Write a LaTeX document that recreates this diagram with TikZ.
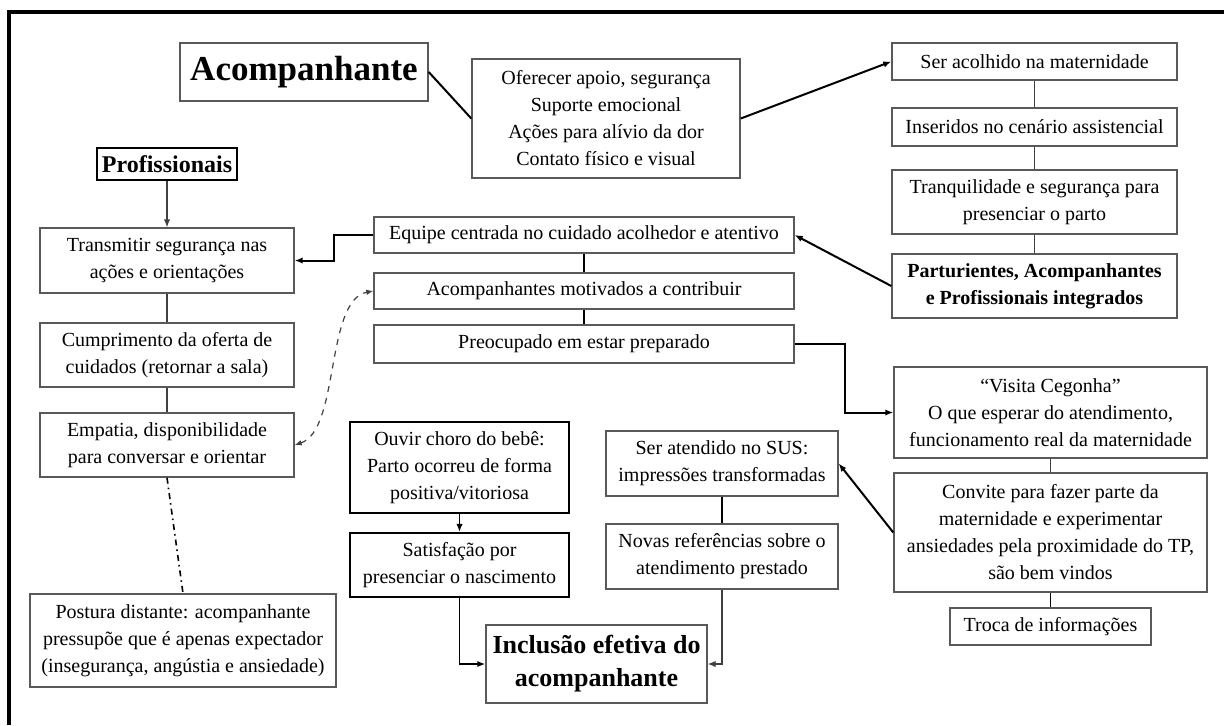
\documentclass[tikz,border=0pt]{standalone}
\usepackage{fontspec}
\setmainfont{Liberation Serif}
\usetikzlibrary{arrows.meta}

\begin{document}
\begin{tikzpicture}[x=0.5pt,y=-0.5pt,
	cbox/.style={draw=black!65,line width=0.7pt,align=center,inner sep=0pt,font=\fontsize{10}{13.5}\selectfont},
	hbox/.style={cbox,draw=black,line width=1.1pt},
	tie/.style={draw=black!75,line width=0.6pt},
	ar/.style={-{Latex[length=4pt,width=3.2pt]}},
	bigar/.style={ar,line width=1pt}]
	\useasboundingbox (0,0) rectangle (1224,725);
	\draw[line width=2.4pt] (9,725) -- (9,12) -- (1224,12);

	\node[cbox,minimum width=124pt,minimum height=29pt,font=\bfseries\fontsize{17.5}{20}\selectfont] (acomp) at (304,72) {Acompanhante};
	\node[cbox,minimum width=134pt,minimum height=59.5pt] (apoio) at (606,118.5) {Oferecer apoio, segurança\\Suporte emocional\\Ações para alívio da dor\\Contato físico e visual};
	\node[cbox,minimum width=142.5pt,minimum height=18.5pt] (acolhido) at (1034.5,61.5) {Ser acolhido na maternidade};
	\node[cbox,minimum width=142.5pt,minimum height=19pt] (inseridos) at (1034.5,127) {Inseridos no cenário assistencial};
	\node[cbox,minimum width=142.5pt,minimum height=32pt] (tranq) at (1034.5,202) {Tranquilidade e segurança para\\presenciar o parto};
	\node[cbox,minimum width=142.5pt,minimum height=32pt,font=\bfseries\fontsize{10}{13.5}\selectfont] (integr) at (1034.5,286) {Parturientes, Acompanhantes\\e Profissionais integrados};

	\node[hbox,minimum width=70pt,minimum height=16pt,font=\bfseries\fontsize{12}{14}\selectfont] (profiss) at (167,164) {Profissionais};
	\node[cbox,minimum width=127pt,minimum height=32.5pt] (transm) at (167,260.5) {Transmitir segurança nas\\ações e orientações};
	\node[cbox,minimum width=127pt,minimum height=32pt] (cumpr) at (167,355) {Cumprimento da oferta de\\cuidados (retornar a sala)};
	\node[cbox,minimum width=127pt,minimum height=32pt] (empat) at (167,445) {Empatia, disponibilidade\\para conversar e orientar};
	\node[cbox,minimum width=153pt,minimum height=46.5pt] (postura) at (183,640.5) {Postura distante: acompanhante\\pressupõe que é apenas expectador\\(insegurança, angústia e ansiedade)};

	\node[cbox,minimum width=210pt,minimum height=18pt] (equipe) at (584,235) {Equipe centrada no cuidado acolhedor e atentivo};
	\node[cbox,minimum width=210pt,minimum height=18pt] (motiv) at (584,291) {Acompanhantes motivados a contribuir};
	\node[cbox,minimum width=210pt,minimum height=19pt] (preoc) at (584,344) {Preocupado em estar preparado};

	\node[cbox,minimum width=156.5pt,minimum height=45.5pt] (visita) at (1050.5,412.5) {“Visita Cegonha”\\O que esperar do atendimento,\\funcionamento real da maternidade};
	\node[cbox,minimum width=156.5pt,minimum height=59.5pt] (convite) at (1050.5,532.5) {Convite para fazer parte da\\maternidade e experimentar\\ansiedades pela proximidade do TP,\\são bem vindos};
	\node[cbox,minimum width=100.5pt,minimum height=18.5pt] (troca) at (1050.5,626.5) {Troca de informações};

	\node[cbox,minimum width=116pt,minimum height=32.5pt] (atend) at (722,463.5) {Ser atendido no SUS:\\impressões transformadas};
	\node[cbox,minimum width=116pt,minimum height=32.5pt] (novas) at (722,556.5) {Novas referências sobre o\\atendimento prestado};
	\node[hbox,minimum width=109.5pt,minimum height=45.5pt] (ouvir) at (459.5,467.5) {Ouvir choro do bebê:\\Parto ocorreu de forma\\positiva/vitoriosa};
	\node[hbox,minimum width=109.5pt,minimum height=32pt] (satisf) at (459.5,565) {Satisfação por\\presenciar o nascimento};
	\node[cbox,minimum width=110.5pt,minimum height=39pt,font=\bfseries\fontsize{13}{16.5}\selectfont] (inclus) at (596.5,664) {Inclusão efetiva do\\acompanhante};

	\draw[line width=1pt] (acomp.east) -- (apoio.west);
	\draw[bigar] (apoio.east) -- (acolhido.west);
	\draw[tie] (acolhido) -- (inseridos);
	\draw[tie] (inseridos) -- (tranq);
	\draw[tie] (tranq) -- (integr);
	\draw[bigar] (integr.west) -- (equipe.east);
	\draw[bigar] (equipe.west) -- ++(-39,0) |- (transm.east);
	\draw[tie,ar] (profiss) -- (transm);
	\draw[tie] (transm) -- (cumpr);
	\draw[tie] (cumpr) -- (empat);
	\draw[tie,draw=black,line width=0.8pt,dash dot] (empat.south) -- (postura.north);
	\draw[tie,dashed,{Latex[length=3.5pt,width=2.8pt]}-{Latex[length=3.5pt,width=2.8pt]}] (empat.east) .. controls (340,430) and (325,300) .. (motiv.west);
	\draw[tie,draw=black,line width=0.9pt] (equipe) -- (motiv);
	\draw[tie,draw=black,line width=0.9pt] (motiv) -- (preoc);
	\draw[bigar] (preoc.east) -- ++(50,0) |- (visita.west);
	\draw[tie] (visita) -- (convite);
	\draw[tie,draw=black,line width=0.8pt] (convite) -- (troca);
	\draw[bigar] (convite.west) -- (atend.east);
	\draw[tie,draw=black,line width=0.8pt] (atend) -- (novas);
	\draw[tie,ar] (novas.south) |- (inclus.east);
	\draw[tie,draw=black,line width=0.8pt,ar] (ouvir) -- (satisf);
	\draw[tie,draw=black,line width=0.8pt,ar] (satisf.south) |- (inclus.west);
\end{tikzpicture}
\end{document}
